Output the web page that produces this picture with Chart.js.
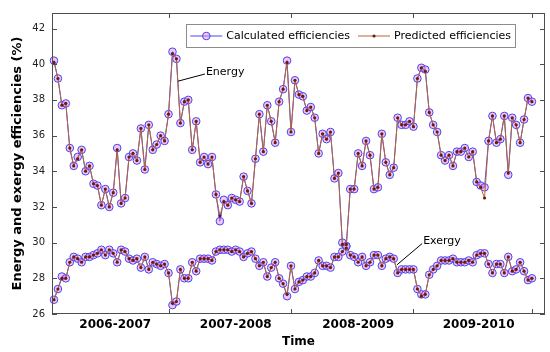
<!DOCTYPE html>
<html>
<head>
<meta charset="utf-8">
<script src="https://cdn.jsdelivr.net/npm/chart.js@4.4.1/dist/chart.umd.min.js"></script>
<style>
  html, body { margin: 0; padding: 0; background: #fff; }
</style>
</head>
<body>
<canvas id="effChart" width="550" height="352"></canvas>
<script>
// weekly values over four heating seasons
const seasons = ['2006-2007', '2007-2008', '2008-2009', '2009-2010']
const seasonLabelAt = [15.5, 46, 77, 107.5]
const seasonEdges = [29, 60, 91, 121]
const yTicks = [26, 28, 30, 32, 34, 36, 38, 40, 42]

const energyCalc = [
  40.2, 39.2, 37.7, 37.8, 35.3, 34.3, 34.8, 35.2, 34.0, 34.3,
  33.3, 33.2, 32.1, 33.0, 32.0, 32.8, 35.3, 32.2, 32.5, 34.8,
  35.0, 34.6, 36.4, 34.1, 36.6, 35.2, 35.5, 36.0, 35.7, 37.2,
  40.7, 40.3, 36.7, 37.9, 38.0, 35.2, 36.8, 34.5, 34.8, 34.4,
  34.8, 32.7, 31.2, 32.4, 32.1, 32.5, 32.4, 32.3, 33.7, 32.9,
  32.2, 34.7, 37.2, 35.1, 37.7, 36.8, 35.6, 37.9, 38.6, 40.2,
  36.2, 39.1, 38.3, 38.2, 37.4, 37.6, 37.0, 35.0, 36.1, 35.8,
  36.2, 33.6, 33.9, 30.0, 29.8, 33.0, 33.0, 35.0, 34.3, 35.7,
  34.9, 33.0, 33.1, 36.1, 34.5, 33.8, 34.2, 37.0, 36.6, 36.6,
  36.8, 36.5, 39.2, 39.8, 39.7, 37.3, 36.6, 36.2, 34.9, 34.6,
  34.9, 34.3, 35.1, 35.1, 35.3, 34.8, 35.1, 33.4, 33.2, 33.1,
  35.7, 37.1, 35.6, 35.8, 37.1, 33.8, 37.0, 36.6, 35.6, 36.9,
  38.1, 37.9
]
const energyPred = [
  40.1, 39.2, 37.7, 37.8, 35.3, 34.3, 34.7, 35.2, 34.0, 34.3,
  33.3, 33.2, 32.1, 33.0, 32.0, 32.8, 35.2, 32.2, 32.5, 34.8,
  35.0, 34.6, 36.4, 34.1, 36.6, 35.2, 35.5, 36.0, 35.7, 37.2,
  40.6, 40.3, 36.7, 37.9, 38.0, 35.2, 36.8, 34.5, 34.8, 34.4,
  34.8, 32.7, 31.5, 32.3, 32.1, 32.5, 32.4, 32.3, 33.7, 32.9,
  32.2, 34.7, 37.2, 35.1, 37.7, 36.8, 35.6, 37.9, 38.6, 40.1,
  36.2, 39.1, 38.3, 38.2, 37.4, 37.6, 37.0, 35.0, 36.1, 35.8,
  36.2, 33.6, 33.9, 29.9, 29.9, 33.0, 33.0, 35.0, 34.3, 35.7,
  34.9, 33.0, 33.1, 36.1, 34.5, 33.8, 34.2, 37.0, 36.6, 36.6,
  36.8, 36.5, 39.2, 39.8, 39.6, 37.3, 36.6, 36.2, 34.9, 34.6,
  34.9, 34.3, 35.1, 35.1, 35.3, 34.8, 35.1, 33.4, 33.1, 32.5,
  35.7, 37.1, 35.6, 35.8, 37.1, 33.9, 37.0, 36.6, 35.6, 36.9,
  38.1, 37.9
]
const exergyCalc = [
  26.8, 27.4, 28.1, 28.0, 28.9, 29.2, 29.1, 28.9, 29.2, 29.2,
  29.3, 29.4, 29.6, 29.3, 29.6, 29.4, 28.9, 29.6, 29.5, 29.1,
  29.0, 29.1, 28.6, 29.2, 28.5, 28.9, 28.8, 28.7, 28.8, 28.3,
  26.5, 26.7, 28.5, 28.0, 28.0, 28.9, 28.4, 29.1, 29.1, 29.1,
  29.0, 29.5, 29.6, 29.6, 29.6, 29.5, 29.6, 29.5, 29.2, 29.4,
  29.5, 29.1, 28.7, 28.9, 28.1, 28.6, 28.9, 28.0, 27.7, 27.0,
  28.7, 27.4, 27.8, 27.9, 28.1, 28.1, 28.3, 29.0, 28.7, 28.7,
  28.6, 29.2, 29.2, 29.5, 29.8, 29.3, 29.2, 28.9, 29.2, 28.7,
  28.9, 29.3, 29.3, 28.7, 29.1, 29.2, 29.1, 28.3, 28.5, 28.5,
  28.5, 28.5, 27.4, 27.1, 27.1, 28.2, 28.5, 28.7, 29.0, 29.0,
  29.0, 29.1, 28.9, 28.9, 28.9, 29.0, 28.9, 29.3, 29.4, 29.4,
  28.8, 28.3, 28.8, 28.8, 28.3, 29.2, 28.4, 28.5, 28.9, 28.4,
  27.9, 28.0
]
const exergyPred = [
  26.8, 27.4, 28.0, 28.0, 28.9, 29.2, 29.1, 28.9, 29.2, 29.2,
  29.3, 29.4, 29.6, 29.3, 29.6, 29.4, 28.9, 29.6, 29.5, 29.1,
  29.0, 29.1, 28.6, 29.2, 28.5, 28.9, 28.8, 28.7, 28.8, 28.3,
  26.6, 26.7, 28.5, 28.0, 28.0, 28.9, 28.4, 29.1, 29.1, 29.1,
  29.0, 29.5, 29.6, 29.6, 29.6, 29.5, 29.6, 29.5, 29.2, 29.4,
  29.5, 29.1, 28.7, 28.9, 28.1, 28.6, 28.9, 28.0, 27.7, 27.1,
  28.7, 27.4, 27.8, 27.9, 28.1, 28.1, 28.3, 29.0, 28.7, 28.7,
  28.6, 29.2, 29.2, 29.5, 29.7, 29.3, 29.2, 28.9, 29.2, 28.7,
  28.9, 29.3, 29.3, 28.7, 29.1, 29.2, 29.1, 28.3, 28.5, 28.5,
  28.5, 28.5, 27.4, 27.0, 27.1, 28.2, 28.5, 28.7, 29.0, 29.0,
  29.0, 29.1, 28.9, 28.9, 28.9, 29.0, 28.9, 29.3, 29.4, 29.4,
  28.8, 28.3, 28.8, 28.8, 28.3, 29.2, 28.4, 28.5, 28.9, 28.4,
  27.9, 28.0
]

const FONT = '"DejaVu Sans", Verdana, sans-serif'
const CALC_LINE = '#4646f0'
const CALC_FILL = 'rgba(232,140,232,0.5)'
const PRED_LINE = '#b5653a'
const PRED_DOT = '#6b1a0e'

// leader-line labels, in data units
const notes = [
  {text: 'Energy', from: [31.4, 39.05], to: [38.2, 39.45]},
  {text: 'Exergy', from: [86.8, 28.75], to: [93.2, 29.95]}
]

const pts = arr => arr.map((v, i) => ({x: i, y: v}))

function calcSet(label, values, inLegend) {
  return {
    label, inLegend, data: pts(values), order: 1, clip: false,
    borderColor: CALC_LINE, borderWidth: 1, tension: 0,
    pointStyle: 'circle', pointRadius: 3.8, pointBorderWidth: 1,
    pointBorderColor: CALC_LINE, pointBackgroundColor: CALC_FILL
  }
}

function predSet(label, values, inLegend) {
  return {
    label, inLegend, data: pts(values), order: 0, clip: false,
    borderColor: PRED_LINE, borderWidth: 1, tension: 0,
    pointStyle: 'circle', pointRadius: 1.6, pointBorderWidth: 0,
    pointBorderColor: PRED_DOT, pointBackgroundColor: PRED_DOT
  }
}

const frame = {
  id: 'frame',
  afterDatasetsDraw(chart) {
    const {ctx, chartArea: a, scales: {x, y}} = chart
    ctx.save()
    ctx.strokeStyle = '#4d4d4d'
    ctx.lineWidth = 1
    ctx.strokeRect(a.left + 0.5, a.top + 0.5, a.width - 1, a.height - 1)
    ctx.beginPath()
    seasonEdges.forEach(v => {
      const px = Math.round(x.getPixelForValue(v)) + 0.5
      ctx.moveTo(px, a.bottom); ctx.lineTo(px, a.bottom - 5)
      ctx.moveTo(px, a.top); ctx.lineTo(px, a.top + 5)
    })
    yTicks.forEach(v => {
      const py = Math.round(y.getPixelForValue(v)) + 0.5
      ctx.moveTo(a.left, py); ctx.lineTo(a.left + 5, py)
      ctx.moveTo(a.right, py); ctx.lineTo(a.right - 5, py)
    })
    ctx.stroke()

    // Energy / Exergy callouts
    ctx.font = `11px ${FONT}`
    ctx.fillStyle = '#000'
    ctx.strokeStyle = '#000'
    ctx.textBaseline = 'middle'
    notes.forEach(n => {
      const x1 = x.getPixelForValue(n.from[0]), y1 = y.getPixelForValue(n.from[1])
      const x2 = x.getPixelForValue(n.to[0]), y2 = y.getPixelForValue(n.to[1])
      ctx.beginPath()
      ctx.moveTo(x1, y1); ctx.lineTo(x2, y2)
      ctx.stroke()
      ctx.fillText(n.text, x2 + 1, y2 - 2)
    })
    ctx.restore()
  }
}

function drawIcon(ctx, d, x0, yc) {
  ctx.strokeStyle = d.borderColor
  ctx.lineWidth = 1
  ctx.beginPath()
  ctx.moveTo(x0, yc); ctx.lineTo(x0 + 32, yc)
  ctx.stroke()
  ctx.beginPath()
  ctx.arc(x0 + 16, yc, d.pointRadius, 0, Math.PI * 2)
  ctx.fillStyle = d.pointBackgroundColor
  ctx.fill()
  if (d.pointBorderWidth) {
    ctx.strokeStyle = d.pointBorderColor
    ctx.stroke()
  }
}

const boxLegend = {
  id: 'boxLegend',
  afterDraw(chart) {
    const {ctx, chartArea: a} = chart
    const items = chart.data.datasets.filter(d => d.inLegend)
    ctx.save()
    ctx.font = `11px ${FONT}`
    const widths = items.map(d => ctx.measureText(d.label).width)
    let total = 4
    widths.forEach((w, i) => { total += 36 + w + (i < widths.length - 1 ? 8 : 4) })
    const right = a.right - 30
    const left = right - total
    const top = a.top + 11
    const h = 23
    ctx.fillStyle = '#fff'
    ctx.fillRect(left, top, total, h)
    ctx.strokeStyle = '#8c8c8c'
    ctx.lineWidth = 1
    ctx.strokeRect(Math.round(left) + 0.5, Math.round(top) + 0.5, Math.round(total), h)
    const yc = top + h / 2 + 0.5
    let sx = left + 4
    items.forEach((d, i) => {
      drawIcon(ctx, d, sx, yc)
      ctx.fillStyle = '#000'
      ctx.textBaseline = 'middle'
      ctx.fillText(d.label, sx + 36, yc)
      sx += 36 + widths[i] + 8
    })
    ctx.restore()
  }
}

new Chart(document.getElementById('effChart'), {
  type: 'line',
  data: {
    datasets: [
      calcSet('Calculated efficiencies', energyCalc, true),
      predSet('Predicted efficiencies', energyPred, true),
      calcSet('Calculated exergy', exergyCalc, false),
      predSet('Predicted exergy', exergyPred, false)
    ]
  },
  options: {
    responsive: false,
    animation: false,
    devicePixelRatio: 1,
    layout: {padding: {top: 9, right: 5, left: 0, bottom: 0}},
    plugins: {legend: {display: false}, tooltip: {enabled: false}},
    scales: {
      x: {
        type: 'linear', min: -0.5, max: 124.3,
        afterBuildTicks: s => { s.ticks = seasonLabelAt.map(v => ({value: v})) },
        afterFit: s => { s.height = 38 },
        grid: {display: false, drawTicks: false},
        border: {display: false},
        ticks: {
          autoSkip: false, maxRotation: 0, padding: 4, color: '#000',
          font: {family: FONT, size: 12, weight: 'bold'},
          callback: (v, i) => seasons[i]
        },
        title: {
          display: true, text: 'Time', color: '#000',
          font: {family: FONT, size: 12, weight: 'bold'},
          padding: {top: 3, bottom: 3}
        }
      },
      y: {
        min: 26, max: 42.87,
        afterBuildTicks: s => { s.ticks = yTicks.map(v => ({value: v})) },
        afterFit: s => { s.width = 52 },
        grid: {display: false, drawTicks: false},
        border: {display: false},
        ticks: {padding: 7, color: '#222', font: {family: FONT, size: 10}},
        title: {
          display: true, text: 'Energy and exergy efficiencies (%)', color: '#000',
          font: {family: FONT, size: 13, weight: 'bold'},
          padding: {top: 10, bottom: 0}
        }
      }
    }
  },
  plugins: [frame, boxLegend]
})
</script>
</body>
</html>
